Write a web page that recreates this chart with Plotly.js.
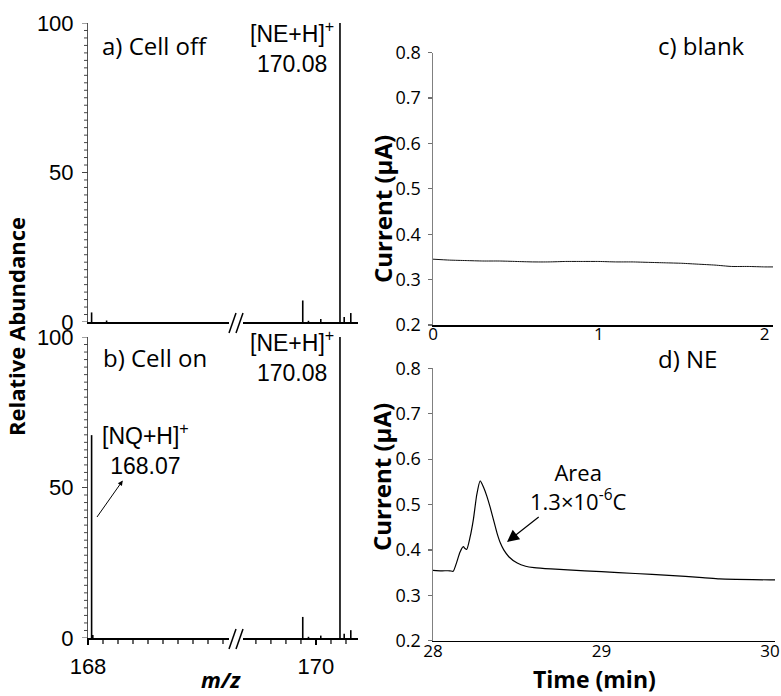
<!DOCTYPE html>
<html><head><meta charset="utf-8">
<script src="https://cdn.plot.ly/plotly-3.0.1.min.js"></script>
<style>html,body{margin:0;padding:0;background:#fff}#chart{width:781px;height:696px}</style>
</head><body><div id="chart"></div>
<script>
// ---------------- data ----------------
// mass spectra (m/z, relative abundance %)
const mzCellOff  = [168.012, 168.062, 169.956, 169.975, 170.016, 170.080, 170.094, 170.116];
const intCellOff = [3.2, 0.5, 7.2, 0.4, 1.0, 100, 1.7, 3.0];
const mzCellOn   = [168.012, 168.016, 169.956, 169.975, 170.016, 170.080, 170.094, 170.116];
const intCellOn  = [67.4, 1.0, 7.0, 0.4, 0.8, 100, 1.4, 2.6];
const mzLabelLeft = [168];
const mzLabelRight = [170];
const mzMinorLeft  = [168.05,168.10,168.15,168.20,168.25,168.30,168.35,168.40,168.45];
const mzMinorRight = [169.80,169.85,169.90,169.95,170.05,170.10];
const abundTicks = [0, 50, 100];
const abundMinorStep = 2.5;
// current traces (time min, current uA)
const tBlank = [0,0.1,0.2,0.3,0.4,0.5,0.6,0.7,0.8,0.9,1.0,1.1,1.2,1.3,1.4,1.5,1.6,1.7,1.8,1.9,2.0,2.05];
const iBlank = [0.345,0.343,0.342,0.341,0.341,0.340,0.339,0.339,0.340,0.340,0.340,0.339,0.339,0.338,0.337,0.336,0.334,0.332,0.329,0.329,0.328,0.328];
const tNE = [28.00,28.05,28.10,28.12,28.14,28.16,28.18,28.19,28.20,28.22,28.24,28.26,28.28,28.30,28.32,28.34,28.36,28.38,28.40,28.42,28.45,28.50,28.55,28.60,28.70,28.80,29.00,29.20,29.40,29.60,29.70,29.80,30.00,30.03];
const iNE = [0.355,0.354,0.354,0.353,0.372,0.395,0.407,0.403,0.401,0.428,0.468,0.522,0.552,0.538,0.518,0.493,0.465,0.437,0.415,0.400,0.385,0.371,0.364,0.361,0.358,0.356,0.352,0.348,0.344,0.339,0.336,0.335,0.334,0.334];
const currentTicks = [0.2,0.3,0.4,0.5,0.6,0.7,0.8];
const blankTimeTicks = [0, 1, 2];
const neTimeTicks = [28, 29, 30];

// ---------------- layout helpers ----------------
const W = 781, H = 696;
const fx = p => p / W;
const fy = p => 1 - p / H;
const LEFT_RANGE = [168.0, 168.47];
const RIGHT_RANGE = [169.757, 170.14];

function sticks(mz, inten, range, xa, ya) {
  const x = [], y = [];
  mz.forEach((m, k) => {
    if (m >= range[0] && m <= range[1]) { x.push(m, m, null); y.push(0, inten[k], null); }
  });
  return {x, y, xaxis: xa, yaxis: ya, mode: 'lines', type: 'scatter',
          line: {color: '#000', width: 1.6}, hoverinfo: 'skip', showlegend: false, cliponaxis: false};
}

const traces = [
  sticks(mzCellOff, intCellOff, LEFT_RANGE, 'x', 'y'),
  sticks(mzCellOff, intCellOff, RIGHT_RANGE, 'x2', 'y'),
  sticks(mzCellOn, intCellOn, LEFT_RANGE, 'x3', 'y2'),
  sticks(mzCellOn, intCellOn, RIGHT_RANGE, 'x4', 'y2'),
  {x: tBlank, y: iBlank, xaxis: 'x5', yaxis: 'y3', mode: 'lines', type: 'scatter',
   line: {color: '#111', width: 1, shape: 'spline', smoothing: 0.6}, showlegend: false},
  {x: tNE, y: iNE, xaxis: 'x6', yaxis: 'y4', mode: 'lines', type: 'scatter',
   line: {color: '#000', width: 1.2, shape: 'spline', smoothing: 0.6}, showlegend: false}
];

const arial = {family: 'Liberation Sans, Arial, sans-serif', size: 22, color: '#000'};
const open = {family: 'Open Sans, sans-serif', size: 18, color: '#000'};

function msX(dom, range, yref, withLabels, major) {
  return {domain: dom, range: range, anchor: yref, showgrid: false, zeroline: false,
    showline: true, linecolor: '#000', linewidth: 2,
    ticks: withLabels ? 'outside' : '', ticklen: 5, tickwidth: 1.2, tickcolor: '#000',
    tickmode: 'array', tickvals: major, showticklabels: withLabels,
    tickfont: arial, ticklabelstandoff: 3, fixedrange: true};
}
function msY(dom, xref) {
  return {domain: dom, range: [0, 100], anchor: xref, showgrid: false, zeroline: false,
    showline: true, linecolor: '#555', linewidth: 1, ticks: '',
    tickmode: 'array', tickvals: abundTicks, tickfont: arial, ticklabelstandoff: 9};
}
function ecY(dom, xref) {
  return {domain: dom, range: [0.2, 0.8], anchor: xref, showgrid: false, zeroline: false,
    showline: true, linecolor: '#808080', linewidth: 1.5,
    ticks: 'outside', ticklen: 4, tickwidth: 1.2, tickcolor: '#707070',
    tickmode: 'array', tickvals: currentTicks, tickformat: '.1f',
    tickfont: open, ticklabelstandoff: 3};
}
function ecX(dom, range, yref, tv, standoff) {
  return {domain: dom, range: range, anchor: yref, showgrid: false, zeroline: false,
    showline: true, linecolor: '#000', linewidth: 1.5, ticks: '',
    tickmode: 'array', tickvals: tv,
    tickfont: {family: 'Open Sans, sans-serif', size: 17, color: '#000'}, ticklabelstandoff: standoff};
}

const domALeft = [fx(88), fx(229)], domARight = [fx(243), fx(358)];
const domAY = [fy(322), fy(23)], domBY = [fy(638), fy(337)];

const shapes = [
  // axis break marks
  {type: 'line', xref: 'paper', yref: 'paper', x0: fx(229), y0: fy(333), x1: fx(236), y1: fy(313), line: {color: '#000', width: 1.5}},
  {type: 'line', xref: 'paper', yref: 'paper', x0: fx(236), y0: fy(333), x1: fx(243), y1: fy(313), line: {color: '#000', width: 1.5}},
  {type: 'line', xref: 'paper', yref: 'paper', x0: fx(229), y0: fy(649), x1: fx(236), y1: fy(629), line: {color: '#000', width: 1.5}},
  {type: 'line', xref: 'paper', yref: 'paper', x0: fx(236), y0: fy(649), x1: fx(243), y1: fy(629), line: {color: '#000', width: 1.5}}
];
// tick marks of the mass-spectrum axes, placed through the axis references
function yTicks(yref) {
  for (let v = 0; v <= 100 + 1e-9; v += abundMinorStep) {
    const major = abundTicks.indexOf(v) >= 0;
    shapes.push({type: 'line', xref: 'paper', yref: yref, x0: fx(major ? 82 : 84), x1: fx(88), y0: v, y1: v,
                 line: {color: '#444', width: 1}});
  }
}
function xTicks(xref, vals) {
  vals.forEach(v => shapes.push({type: 'line', xref: xref, yref: 'paper', x0: v, x1: v,
                 y0: fy(639), y1: fy(644), line: {color: '#000', width: 1.2}}));
}
yTicks('y'); yTicks('y2');
xTicks('x3', mzMinorLeft);
xTicks('x4', mzMinorRight);

const layout = {
  width: W, height: H, margin: {l: 0, r: 0, t: 0, b: 0},
  paper_bgcolor: '#fff', plot_bgcolor: 'rgba(0,0,0,0)', showlegend: false,
  xaxis:  msX(domALeft, LEFT_RANGE, 'y', false, mzLabelLeft),
  xaxis2: msX(domARight, RIGHT_RANGE, 'y', false, mzLabelRight),
  yaxis:  msY(domAY, 'x'),
  xaxis3: msX(domALeft, LEFT_RANGE, 'y2', true, mzLabelLeft),
  xaxis4: msX(domARight, RIGHT_RANGE, 'y2', true, mzLabelRight),
  yaxis2: msY(domBY, 'x3'),
  xaxis5: ecX([fx(433), fx(773)], [0, 2.05], 'y3', blankTimeTicks, -7),
  yaxis3: ecY([fy(325), fy(52.7)], 'x5'),
  xaxis6: ecX([fx(433), fx(775)], [28, 30.03], 'y4', neTimeTicks, -6),
  yaxis4: ecY([fy(640.7), fy(368.3)], 'x6'),
  shapes: shapes,
  annotations: []
};

function ann(text, x, y, opts) {
  return Object.assign({text: text, xref: 'paper', yref: 'paper', x: fx(x), y: fy(y),
    showarrow: false, xanchor: 'center', yanchor: 'middle'}, opts || {});
}
const boldT = {family: 'Open Sans, sans-serif', size: 22, color: '#000'};
const boldT2 = {family: 'Open Sans, sans-serif', size: 24, color: '#000'};
const boldT3 = {family: 'Open Sans, sans-serif', size: 23, color: '#000'};
const lbl = {family: 'Open Sans, sans-serif', size: 24, color: '#000'};
const msLbl = {family: 'Liberation Sans, Arial, sans-serif', size: 23, color: '#000'};
layout.annotations.push(
  ann('<b>Relative Abundance</b>', 16, 327, {textangle: -90, font: boldT}),
  ann('<b><i>m/z</i></b>', 221, 696, {font: boldT, yanchor: 'bottom'}),
  ann('<b>Current (μA)</b>', 382, 209, {textangle: -90, font: boldT2}),
  ann('<b>Current (μA)</b>', 382, 477, {textangle: -90, font: boldT2}),
  ann('<b>Time (min)</b>', 594, 697, {font: boldT3, yanchor: 'bottom'}),
  ann('a) Cell off', 100, 45, {xanchor: 'left', font: lbl}),
  ann('b) Cell on', 101, 357, {xanchor: 'left', font: lbl}),
  ann('c) blank', 656, 45, {xanchor: 'left', font: lbl}),
  ann('d) NE', 656, 358, {xanchor: 'left', font: lbl}),
  ann('[NE+H]<sup>+</sup><br>170.08', 292, 47, {font: msLbl, align: 'center'}),
  ann('[NE+H]<sup>+</sup><br>170.08', 292, 356, {font: msLbl, align: 'center'}),
  // label with arrow whose head sits at the label (arrowside start)
  ann('[NQ+H]<sup>+</sup><br>168.07', 97, 517, {font: msLbl, align: 'center', showarrow: true,
      ax: 48, ay: -68, arrowside: 'start', startarrowhead: 2, startarrowsize: 1, arrowwidth: 1,
      arrowcolor: '#000', startstandoff: 0, standoff: 0}),
  ann('Area<br>1.3×10<sup>-6</sup>C', 507, 542, {font: {family: 'Open Sans, sans-serif', size: 22, color: '#000'},
      align: 'center', showarrow: true, ax: 71, ay: -56, arrowhead: 2, arrowsize: 2, arrowwidth: 1.2,
      arrowcolor: '#000', standoff: 0})
);

Plotly.newPlot('chart', traces, layout, {staticPlot: true, displayModeBar: false});
</script></body></html>
